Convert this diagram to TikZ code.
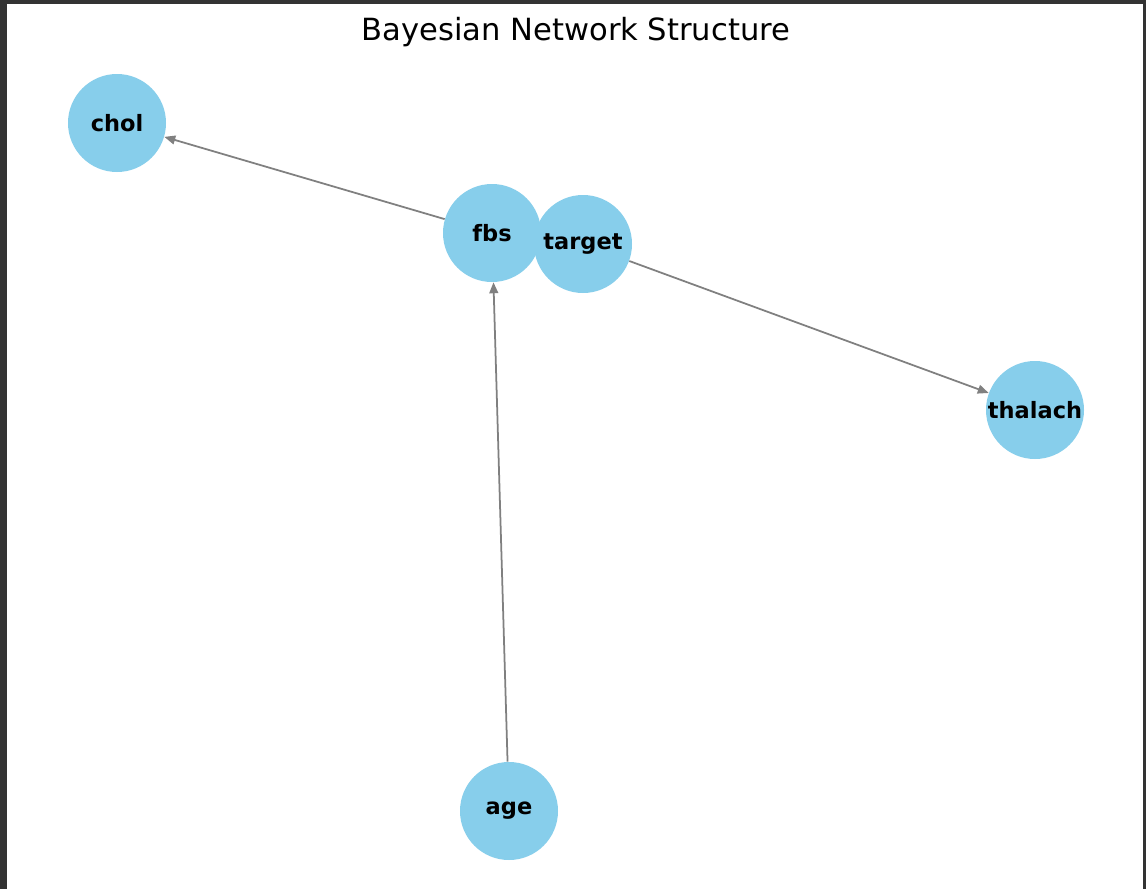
\documentclass[tikz,border=0pt]{standalone}
\usepackage{fontspec}
\setmainfont{DejaVu Sans}
\usetikzlibrary{arrows.meta}
\definecolor{nodeblue}{HTML}{87CEEB}
\definecolor{framegray}{HTML}{333333}
\tikzset{
  bnode/.style={circle,fill=nodeblue,minimum size=98*0.02cm,inner sep=0pt,font=\fontsize{12.8}{14}\selectfont\bfseries},
  bedge/.style={draw=gray,line width=1pt,-{Triangle[length=6.2pt,width=5pt]}}
}
\begin{document}
\begin{tikzpicture}[x=0.02cm,y=-0.02cm]
% Cornice
\fill[framegray](0,0)rectangle(1146,889);
\fill[white](7,4)rectangle(1143,889);
\useasboundingbox(0,0)rectangle(1146,889);
% Titolo
\node[anchor=base,font=\fontsize{17.4}{20}\selectfont](title)at(576,40){Bayesian Network Structure};
% Nodi
\node[bnode](node fbs)at(492,233){fbs};
\node[bnode](node target)at(583,244){target};
\node[bnode](node chol)at(117,123){chol};
\node[bnode](node thalach)at(1035,410){thalach};
\node[bnode](node age)at(509,811){age};
% Archi
\draw[bedge](node fbs)--(node chol);
\draw[bedge](node target)--(node thalach);
\draw[bedge](node age)--(node fbs);
\end{tikzpicture}
\end{document}
